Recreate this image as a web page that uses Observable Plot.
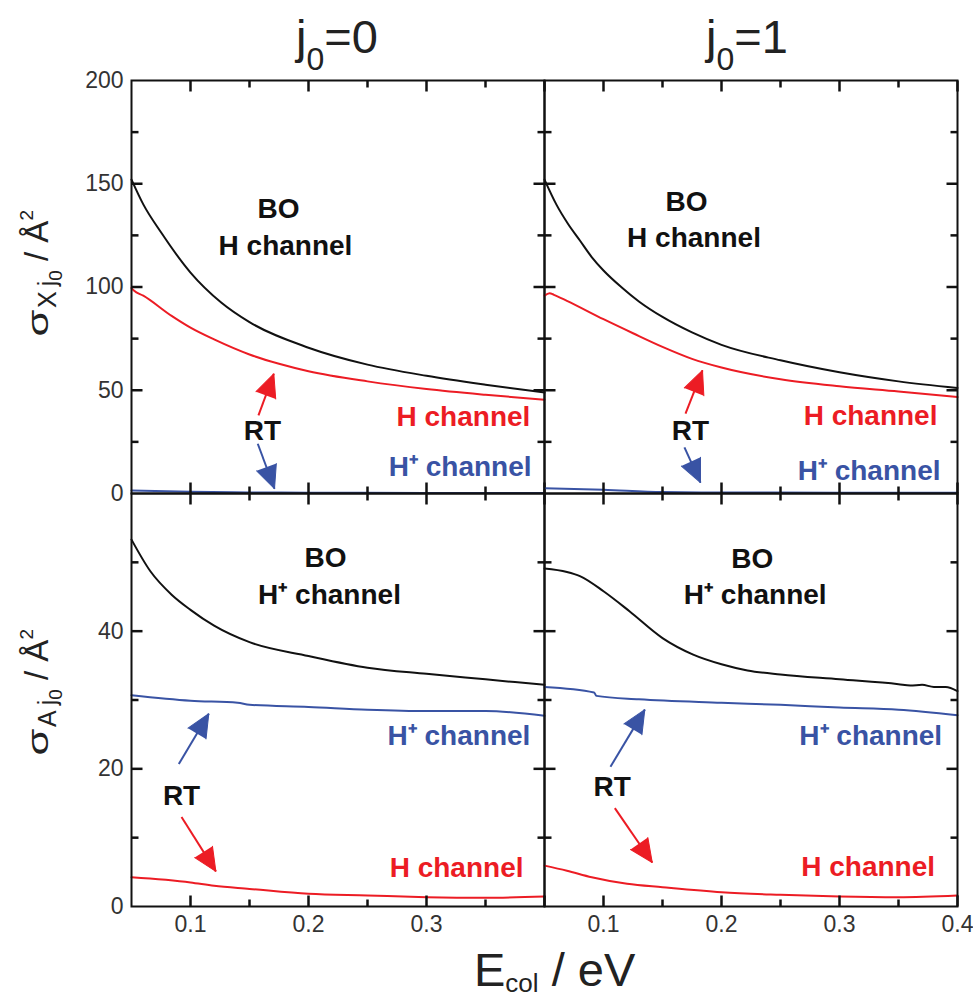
<!DOCTYPE html>
<html>
<head>
<meta charset="utf-8">
<script src="https://cdn.jsdelivr.net/npm/d3@7"></script>
<script src="https://cdn.jsdelivr.net/npm/@observablehq/plot@0.6"></script>
<style>
  body { margin: 0; background: #fff; }
  #wrap { position: relative; width: 973px; height: 997px; overflow: hidden; font-family: "Liberation Sans", Arial, sans-serif; color: #111; }
  .panel { position: absolute; }
  .panel svg { overflow: visible; display: block; }
  .title { position: absolute; top: 13px; width: 200px; text-align: center; font-size: 47px; line-height: 47px; white-space: nowrap; color: #222; }
  .title .sub { font-size: 32px; position: relative; top: 17px; }
  .xlab { position: absolute; left: 474px; top: 946px; font-size: 47px; line-height: 47px; white-space: nowrap; color: #222; }
  .xlab .sub { font-size: 26px; position: relative; top: 6px; }
  .ylab { position: absolute; font-size: 33px; line-height: 33px; white-space: nowrap; color: #222; transform: translate(-50%, -50%) rotate(-90deg); }
  .ylab .sig { display: inline-block; width: 30px; text-align: center; font-size: 30px; transform: scaleX(1.45); }
  .ylab .s1 { font-size: 25px; position: relative; top: 8px; }
  .ylab .s2 { font-size: 19px; position: relative; top: 14px; }
  .ylab .sup { font-size: 19px; position: relative; top: -15px; }
</style>
</head>
<body>
<div id="wrap"></div>
<script>
// ---------- colours ----------
const RED = "#ec1c24", BLUE = "#3953a4", BLACK = "#111111";

// ---------- axis definitions ----------
const xDomain = [0.05, 0.4];
const xMajor = [0.1, 0.2, 0.3, 0.4];
const xMinor = [0.15, 0.25, 0.35];
const topYDomain = [0, 200];
const topYMajor = [50, 100, 150];
const topYMinor = [25, 75, 125, 175];
const topYLabels = [0, 50, 100, 150, 200];
const botYDomain = [0, 60];
const botYMajor = [20, 40];
const botYMinor = [10, 30, 50];
const botYLabels = [0, 20, 40];
const leftXLabels = [0.1, 0.2, 0.3];
const rightXLabels = [0.1, 0.2, 0.3, 0.4];

// ---------- data: top-left (sigma_X, j0=0) ----------
const tlBO_E = [0.05, 0.06, 0.075, 0.1, 0.126, 0.15, 0.2, 0.25, 0.3, 0.35, 0.4];
const tlBO_S = [152, 140, 126.5, 107, 92.5, 83, 70.6, 62.4, 57, 52.7, 48.9];
const tlRH_E = [0.05, 0.052, 0.06, 0.084, 0.1, 0.12, 0.15, 0.175, 0.2, 0.25, 0.3, 0.35, 0.4];
const tlRH_S = [99.5, 98.3, 95.8, 86, 80.3, 74.6, 67.3, 62.8, 59.2, 54.3, 50.6, 47.8, 45.4];
const tlRP_E = [0.05, 0.1, 0.15, 0.2, 0.3, 0.4];
const tlRP_S = [1.5, 0.8, 0.5, 0.4, 0.3, 0.3];

// ---------- data: top-right (sigma_X, j0=1) ----------
const trBO_E = [0.05, 0.06, 0.07, 0.08, 0.09, 0.1, 0.115, 0.13, 0.15, 0.175, 0.2, 0.25, 0.3, 0.35, 0.4];
const trBO_S = [152, 140, 130.5, 122.5, 114.5, 108, 100, 93, 85.5, 78, 72, 64.5, 58.7, 54.3, 51.1];
const trRH_E = [0.05, 0.0543, 0.058, 0.069, 0.1, 0.125, 0.15, 0.175, 0.2, 0.25, 0.3, 0.35, 0.4];
const trRH_S = [95.8, 97, 96.2, 93.3, 84.4, 77.6, 71, 65.2, 61, 55.3, 51.9, 49.4, 46.7];
const trRP_E = [0.05, 0.1, 0.15, 0.2, 0.3, 0.4];
const trRP_S = [2.6, 1.8, 0.7, 0.5, 0.4, 0.4];

// ---------- data: bottom-left (sigma_A, j0=0) ----------
const blBO_E = [0.05, 0.066, 0.084, 0.1, 0.12, 0.15, 0.2, 0.25, 0.3, 0.35, 0.4];
const blBO_S = [53.3, 48.7, 45.3, 43.1, 40.8, 38.4, 36.4, 34.7, 33.8, 33.0, 32.2];
const blRP_E = [0.05, 0.1, 0.14, 0.15, 0.2, 0.25, 0.3, 0.35, 0.4];
const blRP_S = [30.7, 29.9, 29.6, 29.3, 29.0, 28.6, 28.4, 28.4, 27.7];
const blRH_E = [0.05, 0.1, 0.12, 0.15, 0.2, 0.25, 0.3, 0.35, 0.4];
const blRH_S = [4.25, 3.5, 3.0, 2.56, 1.84, 1.6, 1.35, 1.26, 1.45];

// ---------- data: bottom-right (sigma_A, j0=1) ----------
const brBO_E = [0.05, 0.069, 0.08, 0.1, 0.122, 0.15, 0.176, 0.2, 0.222, 0.25, 0.3, 0.35, 0.36, 0.37, 0.38, 0.39, 0.4];
const brBO_S = [49.1, 48.6, 48.0, 45.8, 42.9, 39.0, 36.6, 35.2, 34.3, 33.7, 33.0, 32.3, 32.1, 32.2, 31.9, 31.9, 31.3];
const brRP_E = [0.05, 0.092, 0.094, 0.13, 0.2, 0.25, 0.3, 0.35, 0.4];
const brRP_S = [31.9, 31.1, 30.6, 30.1, 29.6, 29.3, 28.9, 28.6, 27.8];
const brRH_E = [0.05, 0.069, 0.09, 0.12, 0.15, 0.2, 0.25, 0.3, 0.35, 0.4];
const brRH_S = [5.94, 5.2, 4.25, 3.3, 2.8, 2.07, 1.7, 1.45, 1.35, 1.6];

// ---------- annotations (data coordinates) ----------
const tlTexts = [
  {t: "BO", x: 0.1746, y: 133.2, c: BLACK, a: "middle"},
  {t: "H channel", x: 0.1805, y: 115.3, c: BLACK, a: "middle"},
  {t: "RT", x: 0.161, y: 25.7, c: BLACK, a: "middle"},
  {t: "H channel", x: 0.388, y: 32.9, c: RED, a: "end"},
  {t: "H\u207A channel", x: 0.389, y: 8.7, c: BLUE, a: "end"}
];
const tlArrows = [
  {x1: 0.1576, y1: 37.8, x2: 0.1706, y2: 58.0, c: RED},
  {x1: 0.157, y1: 24.1, x2: 0.1712, y2: 2.3, c: BLUE}
];
const trTexts = [
  {t: "BO", x: 0.1703, y: 137, c: BLACK, a: "middle"},
  {t: "H channel", x: 0.1767, y: 119.3, c: BLACK, a: "middle"},
  {t: "RT", x: 0.1737, y: 26.1, c: BLACK, a: "middle"},
  {t: "H channel", x: 0.383, y: 33.4, c: RED, a: "end"},
  {t: "H\u207A channel", x: 0.3856, y: 6.3, c: BLUE, a: "end"}
];
const trArrows = [
  {x1: 0.1695, y1: 38.7, x2: 0.1839, y2: 59.6, c: RED},
  {x1: 0.1686, y1: 22.3, x2: 0.1822, y2: 5.3, c: BLUE}
];
const blTexts = [
  {t: "BO", x: 0.2144, y: 49.3, c: BLACK, a: "middle"},
  {t: "H\u207A channel", x: 0.2178, y: 44.0, c: BLACK, a: "middle"},
  {t: "H\u207A channel", x: 0.388, y: 23.4, c: BLUE, a: "end"},
  {t: "RT", x: 0.0924, y: 14.8, c: BLACK, a: "middle"},
  {t: "H channel", x: 0.3822, y: 4.26, c: RED, a: "end"}
];
const blArrows = [
  {x1: 0.0901, y1: 20.7, x2: 0.1155, y2: 28.0, c: BLUE},
  {x1: 0.0924, y1: 13.0, x2: 0.1215, y2: 5.1, c: RED}
];
const brTexts = [
  {t: "BO", x: 0.226, y: 49.2, c: BLACK, a: "middle"},
  {t: "H\u207A channel", x: 0.2286, y: 44.0, c: BLACK, a: "middle"},
  {t: "H\u207A channel", x: 0.387, y: 23.5, c: BLUE, a: "end"},
  {t: "RT", x: 0.1074, y: 16.1, c: BLACK, a: "middle"},
  {t: "H channel", x: 0.381, y: 4.36, c: RED, a: "end"}
];
const brArrows = [
  {x1: 0.1059, y1: 20.3, x2: 0.135, y2: 28.6, c: BLUE},
  {x1: 0.1096, y1: 14.3, x2: 0.1413, y2: 6.4, c: RED}
];

// ---------- panels ----------
const zip = (xs, ys) => xs.map((v, i) => ({E: v, S: ys[i]}));
const panels = [
  {left: 131, top: 80, w: 413, h: 413, yDomain: topYDomain, yMajor: topYMajor, yMinor: topYMinor, yLabels: topYLabels, xLabels: [],
   series: [[tlBO_E, tlBO_S, BLACK], [tlRH_E, tlRH_S, RED], [tlRP_E, tlRP_S, BLUE]], texts: tlTexts, arrows: tlArrows},
  {left: 544, top: 80, w: 413, h: 413, yDomain: topYDomain, yMajor: topYMajor, yMinor: topYMinor, yLabels: [], xLabels: [],
   series: [[trBO_E, trBO_S, BLACK], [trRH_E, trRH_S, RED], [trRP_E, trRP_S, BLUE]], texts: trTexts, arrows: trArrows},
  {left: 131, top: 493, w: 413, h: 413, yDomain: botYDomain, yMajor: botYMajor, yMinor: botYMinor, yLabels: botYLabels, xLabels: leftXLabels,
   series: [[blBO_E, blBO_S, BLACK], [blRP_E, blRP_S, BLUE], [blRH_E, blRH_S, RED]], texts: blTexts, arrows: blArrows},
  {left: 544, top: 493, w: 413, h: 413, yDomain: botYDomain, yMajor: botYMajor, yMinor: botYMinor, yLabels: [], xLabels: rightXLabels,
   series: [[brBO_E, brBO_S, BLACK], [brRP_E, brRP_S, BLUE], [brRH_E, brRH_S, RED]], texts: brTexts, arrows: brArrows}
];

const wrap = document.getElementById("wrap");
const MAJOR = 11, MINOR = 7;

function buildPanel(p) {
  const sx = d3.scaleLinear().domain(xDomain).range([0, p.w]);
  const sy = d3.scaleLinear().domain(p.yDomain).range([p.h, 0]);
  const [x0, x1] = xDomain, [y0, y1] = p.yDomain;
  // inward tick segments as two-point polylines (z groups them)
  const tickPts = [];
  let id = 0;
  for (const [vals, len] of [[xMajor, MAJOR], [xMinor, MINOR]]) {
    const dy = sy.invert(p.h - len) - y0;
    for (const v of vals) {
      id++; tickPts.push({id, x: v, y: y0}, {id, x: v, y: y0 + dy});
      id++; tickPts.push({id, x: v, y: y1}, {id, x: v, y: y1 - dy});
    }
  }
  for (const [vals, len] of [[p.yMajor, MAJOR], [p.yMinor, MINOR]]) {
    const dx = sx.invert(len) - x0;
    for (const v of vals) {
      id++; tickPts.push({id, x: x0, y: v}, {id, x: x0 + dx, y: v});
      id++; tickPts.push({id, x: x1, y: v}, {id, x: x1 - dx, y: v});
    }
  }
  const marks = [];
  for (const [xs, ys, c] of p.series) {
    marks.push(Plot.line(zip(xs, ys), {x: "E", y: "S", stroke: c, strokeWidth: 2, curve: "monotone-x"}));
  }
  marks.push(Plot.frame({stroke: BLACK, strokeWidth: 2}));
  marks.push(Plot.line(tickPts, {x: "x", y: "y", z: "id", stroke: BLACK, strokeWidth: 2.5, strokeLinecap: "butt"}));
  // tick labels
  if (p.xLabels.length) {
    marks.push(Plot.text(p.xLabels, {x: d => d, y: y0, text: d => d.toFixed(1), dy: 9, lineAnchor: "top",
      fontSize: 23, fill: "#333", fontFamily: "Liberation Sans, Arial, sans-serif"}));
  }
  if (p.yLabels.length) {
    marks.push(Plot.text(p.yLabels, {x: x0, y: d => d, text: d => String(d), dx: -8, textAnchor: "end", lineAnchor: "middle",
      fontSize: 23, fill: "#333", fontFamily: "Liberation Sans, Arial, sans-serif"}));
  }
  // annotation texts
  for (const t of p.texts) {
    marks.push(Plot.text([t], {x: "x", y: "y", text: "t", fill: t.c, textAnchor: t.a, lineAnchor: "bottom",
      fontSize: 28, fontWeight: "bold", fontFamily: "Liberation Sans, Arial, sans-serif"}));
  }
  // arrows: shaft + filled head
  for (const a of p.arrows) {
    const ddx = sx(a.x2) - sx(a.x1), ddy = sy(a.y2) - sy(a.y1);
    const rot = Math.atan2(ddx, -ddy) * 180 / Math.PI;
    marks.push(Plot.link([a], {x1: "x1", y1: "y1", x2: "x2", y2: "y2", stroke: a.c, strokeWidth: 2}));
    marks.push(Plot.vector([a], {x: "x2", y: "y2", rotate: rot, length: 23, r: 10.5, anchor: "end", shape: "spike",
      fill: a.c, stroke: a.c, strokeWidth: 1}));
  }
  const svg = Plot.plot({
    width: p.w, height: p.h, margin: 0,
    style: {overflow: "visible", background: "transparent", fontFamily: "Liberation Sans, Arial, sans-serif"},
    x: {domain: xDomain, axis: null},
    y: {domain: p.yDomain, axis: null},
    marks
  });
  const div = document.createElement("div");
  div.className = "panel";
  div.style.left = p.left + "px";
  div.style.top = p.top + "px";
  div.appendChild(svg);
  wrap.appendChild(div);
}
panels.forEach(buildPanel);

// ---------- titles and axis labels ----------
const titles = [{text: "0", cx: 337}, {text: "1", cx: 747}];
for (const t of titles) {
  const d = document.createElement("div");
  d.className = "title";
  d.style.left = (t.cx - 100) + "px";
  d.innerHTML = `j<span class="sub">0</span>=${t.text}`;
  wrap.appendChild(d);
}
const xl = document.createElement("div");
xl.className = "xlab";
xl.innerHTML = `E<span class="sub">col</span> / eV`;
wrap.appendChild(xl);

const ylabs = [{sub: "X", cy: 274}, {sub: "A", cy: 693}];
for (const y of ylabs) {
  const d = document.createElement("div");
  d.className = "ylab";
  d.style.left = "39px";
  d.style.top = y.cy + "px";
  d.innerHTML = `<span class="sig">σ</span><span class="s1">${y.sub}&thinsp;j</span><span class="s2">0</span> / Å<span class="sup">2</span>`;
  wrap.appendChild(d);
}
</script>
</body>
</html>
